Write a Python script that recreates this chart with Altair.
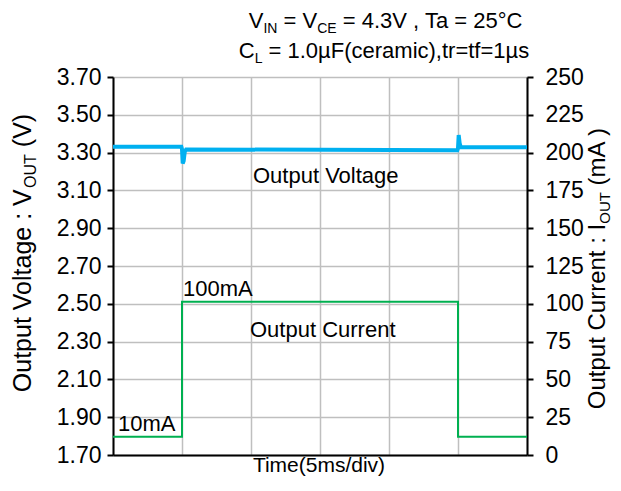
import altair as alt
import pandas as pd

# ---------------- data ----------------
v_time_ms = [0.0, 4.95, 5.0, 5.05, 5.12, 5.2, 5.3, 24.95, 25.0, 25.05, 25.12, 25.2, 30.0]
v_out_v = [3.331, 3.331, 3.318, 3.243, 3.255, 3.305, 3.317, 3.312, 3.322, 3.393, 3.350, 3.328, 3.328]
i_time_ms = [0.0, 5.0, 5.0, 25.0, 25.0, 30.0]
i_out_ma = [12.0, 12.0, 101.4, 101.4, 12.0, 12.0]

x_ticks = [0, 5, 10, 15, 20, 25, 30]
v_ticks = [1.70, 1.90, 2.10, 2.30, 2.50, 2.70, 2.90, 3.10, 3.30, 3.50, 3.70]
i_ticks = [0, 25, 50, 75, 100, 125, 150, 175, 200, 225, 250]

title1 = [("V", 0), ("IN", 1), (" = V", 0), ("CE", 1), (" = 4.3V , Ta = 25°C", 0)]
title2 = [("C", 0), ("L", 1), (" = 1.0µF(ceramic),tr=tf=1µs", 0)]
left_title = [("Output Voltage : V", 0), ("OUT", 1), (" (V)", 0)]
right_title = [("Output Current : I", 0), ("OUT", 1), (" (mA )", 0)]
x_title = "Time(5ms/div)"

FONT = "Liberation Sans"
FS = 22
TICKFS = 23

# Arial / Liberation Sans advance widths (1/1000 em)
AW = {' ': 278, '(': 333, ')': 333, ',': 278, '.': 278, '/': 278, ':': 278, '=': 584,
      '°': 400, 'µ': 576,
      'A': 667, 'C': 722, 'E': 667, 'F': 611, 'I': 278, 'L': 556, 'N': 722, 'O': 778,
      'T': 611, 'U': 722, 'V': 667,
      'a': 556, 'c': 500, 'e': 556, 'f': 278, 'g': 556, 'i': 222, 'l': 222, 'm': 833,
      'n': 556, 'o': 556, 'p': 556, 'r': 333, 's': 500, 't': 278, 'u': 556}


def tw(s, size):
    return sum(AW.get(c, 556) for c in s) * size / 1000.0


one = pd.DataFrame({"k": [0]})


def rich(segments, x, y, fs, sub_fs, sub_dy, angle=0):
    """Compose text with subscripts; (x, y) is the centre of the run on its baseline."""
    total = sum(tw(s, sub_fs if sub else fs) for s, sub in segments)
    if angle == 0:
        ax, ay = x - total / 2.0, y
    else:
        ax, ay = x, y + total / 2.0
    layers = []
    off = 0.0
    for s, sub in segments:
        size = sub_fs if sub else fs
        stripped = s.lstrip(" ")
        lead = tw(s[: len(s) - len(stripped)], size)
        kw = dict(text=stripped.rstrip(" "), fontSize=size, font=FONT, color="black",
                  align="left", baseline="alphabetic", dx=off + lead,
                  dy=(sub_dy if sub else 0))
        if angle:
            kw["angle"] = angle
        layers.append(alt.Chart(one).mark_text(**kw).encode(x=alt.value(ax), y=alt.value(ay)))
        off += tw(s, size)
    return layers


def label(txt, x, y, size=FS, align="left"):
    return alt.Chart(one).mark_text(text=txt, fontSize=size, font=FONT, color="black",
                                    align=align, baseline="alphabetic").encode(
        x=alt.value(x), y=alt.value(y))


vdf = pd.DataFrame({"t": v_time_ms, "v": v_out_v, "o": list(range(len(v_time_ms)))})
idf = pd.DataFrame({"t": i_time_ms, "i": i_out_ma, "o": list(range(len(i_time_ms)))})

x_enc = alt.X("t:Q", scale=alt.Scale(domain=[0, 30], nice=False, zero=False),
              axis=alt.Axis(values=x_ticks, labels=False, ticks=False, grid=True,
                            gridColor="#BFBFBF", gridWidth=1.5, domainColor="black",
                            domainWidth=2, title=None))

volt = alt.Chart(vdf).mark_line(color="#00B0F0", strokeWidth=4).encode(
    x=x_enc,
    y=alt.Y("v:Q", scale=alt.Scale(domain=[1.7, 3.7], nice=False, zero=False),
            axis=alt.Axis(values=v_ticks, format=".2f", grid=True, gridColor="#BFBFBF",
                          gridWidth=1.5, domainColor="black", domainWidth=2,
                          tickColor="black", tickWidth=2, tickSize=6, labelFontSize=TICKFS,
                          labelFont=FONT, labelColor="black", labelPadding=6, title=None)),
    order="o:Q",
)

curr = alt.Chart(idf).mark_line(color="#00B050", strokeWidth=2).encode(
    x=x_enc,
    y=alt.Y("i:Q", scale=alt.Scale(domain=[0, 250], nice=False, zero=False),
            axis=alt.Axis(orient="right", values=i_ticks, format="d", grid=False,
                          domainColor="black", domainWidth=2, tickColor="black",
                          tickWidth=2, tickSize=6, labelFontSize=TICKFS, labelFont=FONT,
                          labelColor="black", labelPadding=12, title=None)),
    order="o:Q",
)

texts = []
texts += rich(title1, 274, -49, FS, 14, 5)
texts += rich(title2, 271, -19, FS, 14, 5)
texts += rich(left_title, -82, 176, 25, 16, 5, angle=270)
texts += rich(right_title, 492, 191, 24, 15, 5, angle=270)
texts += [label("Output Voltage", 140, 106), label("Output Current", 137, 260),
          label("100mA", 70, 219), label("10mA", 5, 354),
          label(x_title, 206, 395, size=21, align="center")]

chart = alt.layer(volt, curr, *texts).resolve_scale(y="independent").properties(
    width=414, height=378,
    autosize=alt.AutoSizeParams(type="none"),
    padding={"left": 105, "right": 86, "top": 69, "bottom": 23},
).configure_view(strokeWidth=0).configure(font=FONT)

chart.save("out.html", embed_options={"renderer": "svg", "actions": False})
